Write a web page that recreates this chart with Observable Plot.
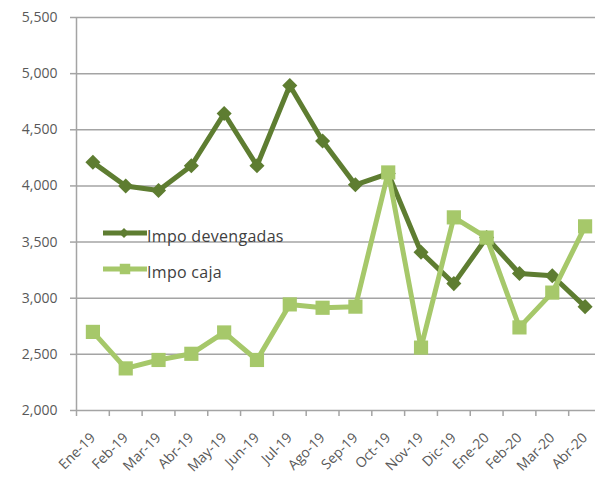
<!DOCTYPE html>
<html>
<head>
<meta charset="utf-8">
<script src="https://cdn.jsdelivr.net/npm/d3@7"></script>
<script src="https://cdn.jsdelivr.net/npm/@observablehq/plot@0.6"></script>
<style>
  html, body { margin: 0; padding: 0; background: #fff; }
  #chart svg { display: block; font-family: "Open Sans", sans-serif; }
</style>
</head>
<body>
<div id="chart"></div>
<script>
const months = ["Ene-19","Feb-19","Mar-19","Abr-19","May-19","Jun-19","Jul-19","Ago-19","Sep-19","Oct-19","Nov-19","Dic-19","Ene-20","Feb-20","Mar-20","Abr-20"];
const devengadas = [4210, 4000, 3960, 4180, 4645, 4180, 4895, 4400, 4010, 4110, 3410, 3130, 3540, 3220, 3200, 2925];
const caja = [2700, 2375, 2450, 2505, 2695, 2450, 2945, 2915, 2925, 4120, 2560, 3720, 3540, 2740, 3050, 3640];
const yTicks = [2000, 2500, 3000, 3500, 4000, 4500, 5000, 5500];
const seriesNames = ["Impo devengadas", "Impo caja"];

const dark = "#5e7d31";
const light = "#a6c86a";
const grid = "#a4a4a4";
const textColor = "#595959";

const rows = months.map((m, i) => ({i, m, dev: devengadas[i], caja: caja[i]}));
const cx = d => d.i + 0.5;

const chart = Plot.plot({
  width: 595,
  height: 477,
  marginLeft: 76,
  marginRight: 0,
  marginTop: 17,
  marginBottom: 67,
  x: {domain: [0, months.length], range: [76, 601]},
  y: {domain: [2000, 5500]},
  style: {fontFamily: "Open Sans, sans-serif"},
  marks: [
    Plot.ruleY(yTicks, {stroke: grid, strokeWidth: 1.5, strokeOpacity: 1}),
    Plot.ruleX([0], {stroke: grid, strokeWidth: 1.5}),
    Plot.axisX({ticks: d3.range(months.length + 1), tickFormat: () => "", tickSize: 6, stroke: grid, strokeWidth: 1.5, label: null}),
    Plot.axisY({ticks: yTicks, tickFormat: d3.format(","), tickSize: 6, tickPadding: 13, stroke: grid, strokeWidth: 1.5, fontSize: 14, color: textColor, label: null}),
    Plot.text(rows, {x: cx, y: () => 2000, text: "m", rotate: -45, textAnchor: "end", lineAnchor: "middle", dx: 0, dy: 25, fontSize: 14, fill: textColor}),
    Plot.line(rows, {x: cx, y: "dev", stroke: dark, strokeWidth: 5, strokeLinejoin: "miter"}),
    Plot.dot(rows, {x: cx, y: "dev", symbol: "square", r: 6, rotate: 45, fill: dark, stroke: "none"}),
    Plot.line(rows, {x: cx, y: "caja", stroke: light, strokeWidth: 5, strokeLinejoin: "miter"}),
    Plot.dot(rows, {x: cx, y: "caja", symbol: "square", r: 8, fill: light, stroke: "none"})
  ]
});

document.getElementById("chart").appendChild(chart);

const svg = d3.select(chart);
// Legend inside plot area
const legend = svg.append("g");
[[dark, 233, "diamond"], [light, 269, "square"]].forEach(([c, y, sym], k) => {
  legend.append("line").attr("x1", 103).attr("x2", 147).attr("y1", y).attr("y2", y)
    .attr("stroke", c).attr("stroke-width", 5);
  if (sym === "diamond") {
    legend.append("path").attr("d", d3.symbol(d3.symbolSquare, 50)())
      .attr("transform", `translate(124,${y}) rotate(45)`).attr("fill", c);
  } else {
    legend.append("path").attr("d", d3.symbol(d3.symbolSquare, 110)())
      .attr("transform", `translate(125,${y})`).attr("fill", c);
  }
  legend.append("text").attr("x", 147).attr("y", y + 3).attr("dy", "0.35em")
    .attr("text-anchor", "start").attr("font-size", 16).attr("letter-spacing", 0.3)
    .attr("fill", "#404040").text(seriesNames[k]);
});
</script>
</body>
</html>
